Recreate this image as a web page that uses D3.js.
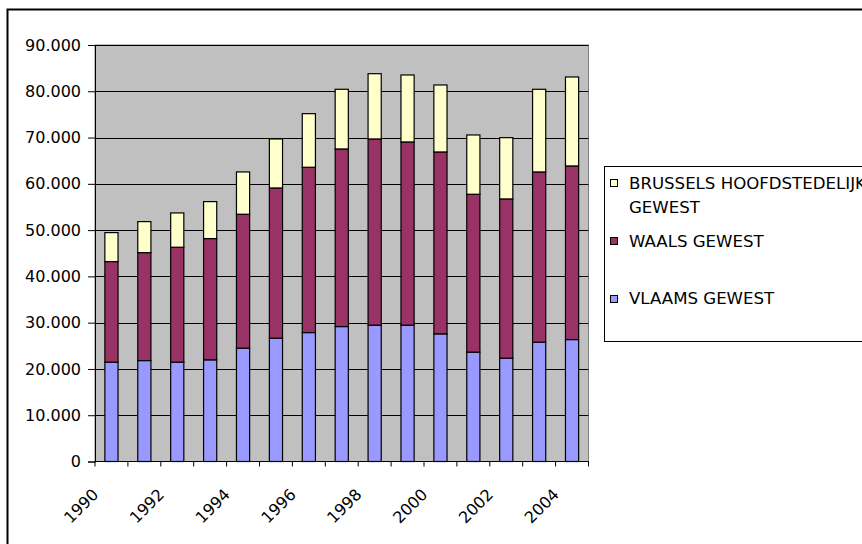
<!DOCTYPE html>
<html lang="nl">
<head>
<meta charset="UTF-8">
<title>Gewesten 1990-2004</title>
<script src="https://cdn.jsdelivr.net/npm/d3@7"></script>
<style>
    body { margin: 0; background: #fff; }
    text { font-family: "DejaVu Sans", Verdana, sans-serif; font-size: 16px; fill: #000; }
    .legend text { font-size: 16.6px; }
</style>
</head>
<body>
<svg id="chart" width="862" height="544"></svg>
<script>
    var years = ["1990", "1991", "1992", "1993", "1994", "1995", "1996", "1997",
        "1998", "1999", "2000", "2001", "2002", "2003", "2004"];
    var vlaams = [21470, 21810, 21470, 21970, 24490, 26650, 27860, 29160,
        29460, 29460, 27580, 23630, 22330, 25790, 26350];
    var waals = [21730, 23330, 24830, 26200, 28940, 32460, 35720, 38380,
        40240, 39590, 39310, 34120, 34410, 36780, 37520];
    var brussel = [6260, 6700, 7410, 7990, 9140, 10590, 11580, 12890,
        14100, 14470, 14470, 12810, 13240, 17860, 19220];
    var yTicks = [0, 10000, 20000, 30000, 40000, 50000, 60000, 70000, 80000, 90000];
    var labelYears = ["1990", "1992", "1994", "1996", "1998", "2000", "2002", "2004"];

    var series = [
        {name: "VLAAMS GEWEST", values: vlaams, color: "#9999FF"},
        {name: "WAALS GEWEST", values: waals, color: "#993366"},
        {name: "BRUSSELS HOOFDSTEDELIJK GEWEST", values: brussel, color: "#FFFFCC"}
    ];

    (function () {
        var svg = d3.select("#chart");
        var pLeft = 95, pRight = 588.5, pTop = 45, pBottom = 461.5;

        // buitenrand
        svg.append("rect")
            .attr("x", 7.5).attr("y", 9.5)
            .attr("width", 900).attr("height", 600)
            .attr("fill", "none").attr("stroke", "#000").attr("stroke-width", 2);

        var x = d3.scaleBand().domain(years).range([pLeft, pRight]);
        var y = d3.scaleLinear().domain([0, 90000]).range([pBottom, pTop]);
        var barW = x.bandwidth() / 2.5;

        svg.append("rect")
            .attr("x", pLeft).attr("y", pTop)
            .attr("width", pRight - pLeft).attr("height", pBottom - pTop)
            .attr("fill", "#C0C0C0").attr("stroke", "#808080");

        // rasterlijnen
        svg.append("g").selectAll("line")
            .data(yTicks.slice(1))
            .enter().append("line")
            .attr("x1", pLeft).attr("x2", pRight)
            .attr("y1", function (d) { return Math.round(y(d)) + 0.5; })
            .attr("y2", function (d) { return Math.round(y(d)) + 0.5; })
            .attr("stroke", "#000").attr("stroke-width", 1);

        // gestapelde staven
        var stack = d3.stack().keys([0, 1, 2]).value(function (d, k) { return series[k].values[d]; });
        var layers = stack(d3.range(years.length));

        svg.append("g").selectAll("g")
            .data(layers)
            .enter().append("g")
            .attr("fill", function (d) { return series[d.key].color; })
            .selectAll("rect")
            .data(function (d) { return d; })
            .enter().append("rect")
            .attr("x", function (d, i) { return x(years[i]) + (x.bandwidth() - barW) / 2; })
            .attr("width", barW)
            .attr("y", function (d) { return y(d[1]); })
            .attr("height", function (d) { return y(d[0]) - y(d[1]); })
            .attr("stroke", "#000").attr("stroke-width", 1.2);

        // y-as
        var fmt = d3.formatLocale({decimal: ",", thousands: ".", grouping: [3], currency: ["", ""]}).format(",");
        var yAxis = svg.append("g")
            .attr("transform", "translate(" + pLeft + ",0)")
            .call(d3.axisLeft(y).tickValues(yTicks).tickSize(7).tickPadding(7).tickFormat(fmt));
        yAxis.select(".domain").attr("stroke", "#000");
        yAxis.selectAll(".tick line").attr("stroke", "#000");
        yAxis.selectAll("text").attr("font-family", "DejaVu Sans").attr("font-size", 16).attr("fill", "#000");

        // x-as
        svg.append("line")
            .attr("x1", pLeft).attr("x2", pRight)
            .attr("y1", pBottom).attr("y2", pBottom)
            .attr("stroke", "#000");
        var bounds = years.map(function (d) { return x(d); }).concat([pRight]);
        svg.append("g").selectAll("line")
            .data(bounds)
            .enter().append("line")
            .attr("x1", function (d) { return d; }).attr("x2", function (d) { return d; })
            .attr("y1", pBottom).attr("y2", pBottom + 5)
            .attr("stroke", "#000");

        svg.append("g").selectAll("text")
            .data(labelYears)
            .enter().append("text")
            .attr("transform", function (d) {
                return "translate(" + (x(d) + x.bandwidth() / 2 - 12) + "," + (pBottom + 34) + ") rotate(-45)";
            })
            .attr("text-anchor", "end")
            .text(function (d) { return d; });

        // legenda
        var lg = svg.append("g").attr("class", "legend");
        lg.append("rect")
            .attr("x", 604.5).attr("y", 166.5)
            .attr("width", 300).attr("height", 175)
            .attr("fill", "#fff").attr("stroke", "#000");

        var legendItems = [
            {s: series[2], sq: 179, lines: [["BRUSSELS HOOFDSTEDELIJK", 189], ["GEWEST", 213]]},
            {s: series[1], sq: 237, lines: [["WAALS GEWEST", 247]]},
            {s: series[0], sq: 295, lines: [["VLAAMS GEWEST", 304]]}
        ];
        legendItems.forEach(function (it) {
            lg.append("rect")
                .attr("x", 610.5).attr("y", it.sq + 0.5)
                .attr("width", 7).attr("height", 7)
                .attr("fill", it.s.color).attr("stroke", "#000");
            it.lines.forEach(function (l) {
                lg.append("text").attr("x", 629).attr("y", l[1]).text(l[0]);
            });
        });
    })();
</script>
</body>
</html>
